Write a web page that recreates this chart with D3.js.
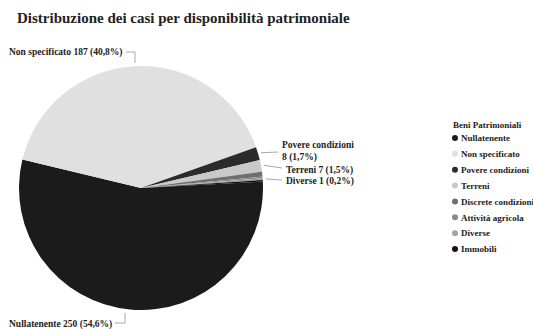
<!DOCTYPE html>
<html>
<head>
<meta charset="utf-8">
<script src="https://cdn.jsdelivr.net/npm/d3@7"></script>
<style>
  body { margin: 0; background: #fff; }
  svg { display: block; font-family: "Liberation Serif", "DejaVu Serif", serif; }
</style>
</head>
<body>
<div id="chart"></div>
<script>
const categories = ['Nullatenente', 'Non specificato', 'Povere condizioni', 'Terreni',
  'Discrete condizioni', 'Attività agricola', 'Diverse', 'Immobili'];
const values = [250, 187, 8, 7, 3, 1, 1, 1];
const colors = ['#1b1b1b', '#e0e0e0', '#2b2b2b', '#c9c9c9', '#6f6f6f', '#8a8a8a', '#a3a3a3', '#111111'];
const legendTitle = 'Beni Patrimoniali';
const title = 'Distribuzione dei casi per disponibilità patrimoniale';

const width = 533, height = 329;
const cx = 141, cy = 188, r = 122;

const svg = d3.select('#chart').append('svg')
  .attr('width', width).attr('height', height);

svg.append('text')
  .attr('x', 17).attr('y', 23)
  .attr('font-size', 15).attr('font-weight', 'bold').attr('fill', '#222')
  .text(title);

const total = d3.sum(values);
const data = categories.map((c, i) => ({ name: c, value: values[i], color: colors[i] }));

const start = 87 * Math.PI / 180;
const pie = d3.pie().value(d => d.value).sort(null)
  .startAngle(start).endAngle(start + 2 * Math.PI);
const arcs = pie(data);
const arc = d3.arc().innerRadius(0).outerRadius(r);

const g = svg.append('g').attr('transform', `translate(${cx},${cy})`);
g.selectAll('path').data(arcs).join('path')
  .attr('d', arc)
  .attr('fill', d => d.data.color);

// labels
const pct = v => (v / total * 100).toFixed(1).replace('.', ',') + '%';
const lbl = svg.append('g').attr('font-size', 9.5).attr('font-weight', 'bold').attr('fill', '#222');
const lineColor = '#a8a8a8';

function edge(d, rr) {
  const a = (d.startAngle + d.endAngle) / 2;
  return [cx + Math.sin(a) * rr, cy - Math.cos(a) * rr];
}

// Non specificato (top left)
const ns = arcs[1];
svg.append('path')
  .attr('d', `M${cx - 6},${cy - r - 3} V${52} H${126}`)
  .attr('fill', 'none').attr('stroke', lineColor);
lbl.append('text').attr('x', 9).attr('y', 55)
  .text(`${ns.data.name} ${ns.data.value} (${pct(ns.data.value)})`);

// Nullatenente (bottom left)
const nu = arcs[0];
svg.append('path')
  .attr('d', `M${cx - 16},${cy + r + 3} V${323} H${115}`)
  .attr('fill', 'none').attr('stroke', lineColor);
lbl.append('text').attr('x', 9).attr('y', 327)
  .text(`${nu.data.name} ${nu.data.value} (${pct(nu.data.value)})`);

// right side small slices
const rightLabels = [
  { i: 2, ty: 148, ly: 152, lines: [`${categories[2]}`, `${values[2]} (${pct(values[2])})`], tx: 282 },
  { i: 3, ty: 173, ly: 168, lines: [`${categories[3]} ${values[3]} (${pct(values[3])})`], tx: 286 },
  { i: 6, ty: 184, ly: 180, lines: [`${categories[6]} ${values[6]} (${pct(values[6])})`], tx: 286 }
];
rightLabels.forEach(l => {
  const p = edge(arcs[l.i], r + 3);
  svg.append('path')
    .attr('d', `M${p[0]},${p[1]} L${l.tx - 4},${l.ly}`)
    .attr('fill', 'none').attr('stroke', lineColor);
  const t = lbl.append('text').attr('x', l.tx).attr('y', l.ty);
  l.lines.forEach((s, k) => t.append('tspan').attr('x', l.tx).attr('dy', k ? 11.5 : 0).text(s));
});

// legend
const leg = svg.append('g').attr('font-weight', 'bold').attr('fill', '#222');
leg.append('text').attr('x', 453).attr('y', 128).attr('font-size', 9).text(legendTitle);
const ly = d3.scalePoint().domain(categories).range([138, 249]);
const item = leg.selectAll('g.item').data(data).join('g').attr('class', 'item')
  .attr('transform', d => `translate(455,${ly(d.name)})`);
item.append('circle').attr('r', 3).attr('fill', d => d.color);
item.append('text').attr('x', 6).attr('y', 3.3).attr('font-size', 9).text(d => d.name);
</script>
</body>
</html>
